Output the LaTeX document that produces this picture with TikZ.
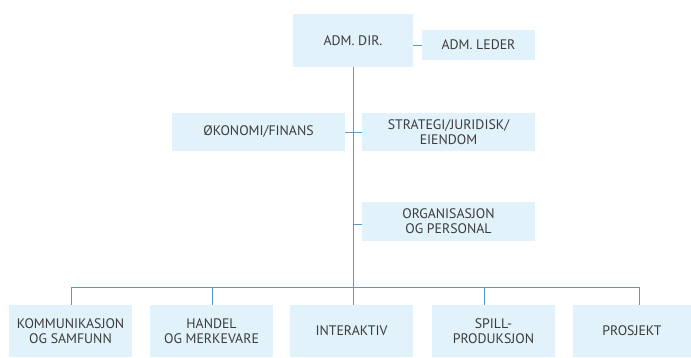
\documentclass[tikz,border=0pt]{standalone}
\usepackage{fontspec}
\setmainfont{PT Sans}
\definecolor{boxfill}{HTML}{E1F2FA}
\definecolor{linecol}{HTML}{5A9ACB}
\definecolor{txt}{HTML}{3C3C3C}
\begin{document}
\begin{tikzpicture}[x=1pt,y=-1pt,
  orgbox/.style={fill=boxfill,draw=none,inner sep=0pt,align=center,text=txt,
    font=\fontsize{13.8}{15}\selectfont},
  conn/.style={draw=linecol,line width=1pt}]
\useasboundingbox (0,0) rectangle (691,357);
\node[orgbox,minimum width=120,minimum height=53] (dir) at (353,40.5) {ADM. DIR.};
\node[orgbox,minimum width=113,minimum height=30] (leder) at (478.5,45) {ADM. LEDER};
\node[orgbox,minimum width=173,minimum height=38] (oko) at (258.5,132) {ØKONOMI/FINANS};
\node[orgbox,minimum width=173,minimum height=38] (strat) at (448.5,132) {STRATEGI/JURIDISK/\\EIENDOM};
\node[orgbox,minimum width=173,minimum height=39] (org) at (448.5,221.5) {ORGANISASJON\\OG PERSONAL};
\node[orgbox,minimum width=123,minimum height=52] (k1) at (70.5,331) {KOMMUNIKASJON\\OG SAMFUNN};
\node[orgbox,minimum width=123,minimum height=52] (k2) at (211.5,331) {HANDEL\\OG MERKEVARE};
\node[orgbox,minimum width=123,minimum height=52] (k3) at (351.5,331) {INTERAKTIV};
\node[orgbox,minimum width=123,minimum height=52] (k4) at (493.5,331) {SPILL-\\PRODUKSJON};
\node[orgbox,minimum width=118,minimum height=52] (k5) at (632,331) {PROSJEKT};
\coordinate (bus) at (353,287);
\coordinate (d1) at (71,287);
\coordinate (d2) at (212,287);
\coordinate (d3) at (353,287);
\coordinate (d4) at (484,287);
\coordinate (d5) at (639,287);
\draw[conn] (dir.south) -- (bus);
\draw[conn] (leder.west -| dir.east) -- (leder.west);
\draw[conn] (oko.east) -- (strat.west);
\draw[conn] (org.west |- 0,224) -- (bus |- 0,224);
\draw[conn] (d1) -- (d5);
\foreach \i in {1,...,5} {\draw[conn] (d\i) -- (d\i |- k\i.north);}
\end{tikzpicture}
\end{document}
